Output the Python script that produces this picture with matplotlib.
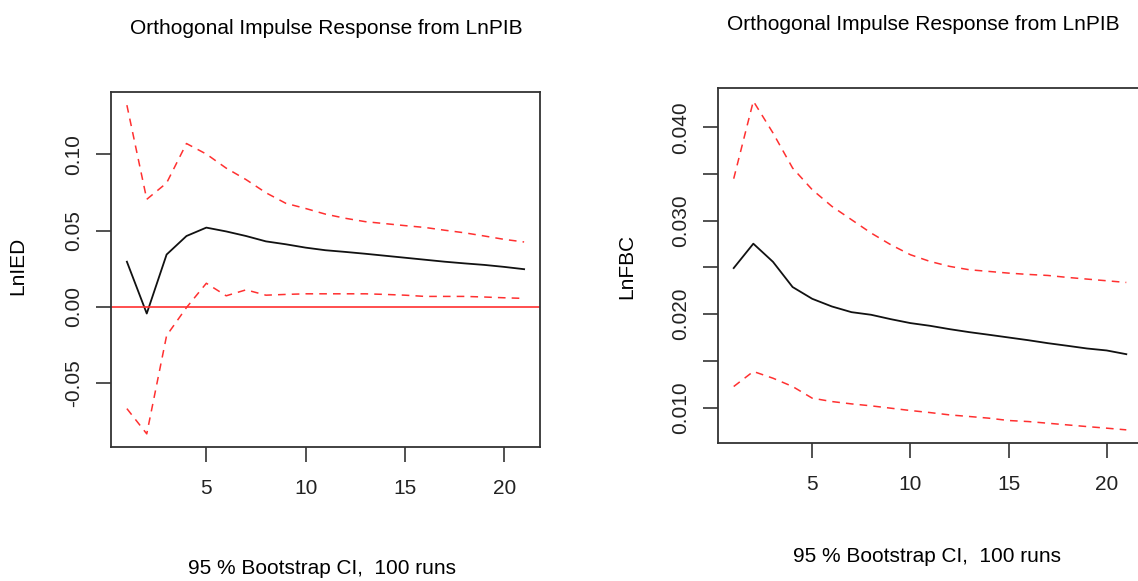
import numpy as np
import matplotlib.pyplot as plt

plt.rcParams['font.family'] = ['Liberation Sans', 'DejaVu Sans']

# horizons
steps = list(range(1, 22))

# LnPIB -> LnIED
ied_irf = [0.0296, -0.0043, 0.0343, 0.0464, 0.0519, 0.0494, 0.0464, 0.0429, 0.0410, 0.0388,
           0.0371, 0.0360, 0.0348, 0.0335, 0.0322, 0.0309, 0.0296, 0.0285, 0.0275, 0.0262, 0.0247]
ied_upper = [0.1320, 0.0704, 0.0811, 0.1069, 0.1000, 0.0908, 0.0833, 0.0747, 0.0678, 0.0644,
             0.0607, 0.0580, 0.0558, 0.0545, 0.0532, 0.0520, 0.0502, 0.0485, 0.0464, 0.0442, 0.0425]
ied_lower = [-0.0665, -0.0830, -0.0187, -0.0004, 0.0155, 0.0073, 0.0112, 0.0077, 0.0082, 0.0086,
             0.0086, 0.0086, 0.0086, 0.0082, 0.0077, 0.0069, 0.0069, 0.0069, 0.0065, 0.0060, 0.0056]

# LnPIB -> LnFBC
fbc_irf = [0.02493, 0.02754, 0.02560, 0.02290, 0.02164, 0.02082, 0.02021, 0.01993, 0.01946, 0.01904,
           0.01875, 0.01839, 0.01807, 0.01779, 0.01750, 0.01721, 0.01689, 0.01661, 0.01632, 0.01611, 0.01571]
fbc_upper = [0.03450, 0.04280, 0.03940, 0.03564, 0.03332, 0.03154, 0.03011, 0.02868, 0.02743, 0.02636,
             0.02564, 0.02511, 0.02475, 0.02457, 0.02439, 0.02425, 0.02414, 0.02393, 0.02375, 0.02357, 0.02339]
fbc_lower = [0.01225, 0.01386, 0.01314, 0.01225, 0.01100, 0.01064, 0.01039, 0.01018, 0.00993, 0.00968,
             0.00946, 0.00921, 0.00904, 0.00886, 0.00861, 0.00850, 0.00832, 0.00814, 0.00796, 0.00779, 0.00761]

title = 'Orthogonal Impulse Response from LnPIB'
note = '95 % Bootstrap CI,  100 runs'
red = '#ff3030'
FS = 15

W, H = 1138, 581
fig = plt.figure(figsize=(W / 100, H / 100), dpi=100)


def px_axes(x0, y0, x1, y1):
    # axes from pixel box (top-left origin)
    return fig.add_axes([x0 / W, 1 - y1 / H, (x1 - x0) / W, (y1 - y0) / H])


def r_style(ax, lo, hi, yticks, ylabels):
    # R-like limits: 4% padding
    pad = (hi - lo) * 0.04
    ax.set_ylim(lo - pad, hi + pad)
    ax.set_xlim(1 - 0.8, 21 + 0.8)
    ax.set_xticks([5, 10, 15, 20])
    ax.set_yticks(yticks)
    ax.set_yticklabels(ylabels, rotation=90, va='center')
    for s in ax.spines.values():
        s.set_color('#333333')
        s.set_linewidth(1.3)
    ax.tick_params(length=10.8, width=1.2, color='#333333', labelsize=FS, labelcolor='#222222')
    ax.tick_params(axis='y', pad=9.5)
    ax.tick_params(axis='x', pad=12)


def draw(ax, irf, up, lo):
    ax.plot(steps, irf, color='#111111', lw=1.3)
    ax.plot(steps, up, color=red, lw=1.1, ls=(0, (5, 4)))
    ax.plot(steps, lo, color=red, lw=1.1, ls=(0, (5, 4)))


# left panel
ax1 = px_axes(111, 92, 540, 447)
draw(ax1, ied_irf, ied_upper, ied_lower)
ax1.axhline(0, color=red, lw=1.2)
r_style(ax1, min(ied_lower), max(ied_upper),
        [-0.05, 0.0, 0.05, 0.10], ['-0.05', '0.00', '0.05', '0.10'])
fig.text(18 / W, 1 - 266 / H, 'LnIED', rotation=90, ha='center', va='center', fontsize=FS)
fig.text(326 / W, 1 - 29 / H, title, ha='center', va='center', fontsize=FS)
fig.text(322 / W, 1 - 569 / H, note, ha='center', va='center', fontsize=FS)

# right panel (right edge cropped in original)
ax2 = px_axes(718, 88, 1142, 443)
draw(ax2, fbc_irf, fbc_upper, fbc_lower)
fticks = [0.010, 0.015, 0.020, 0.025, 0.030, 0.035, 0.040]
r_style(ax2, min(fbc_lower), max(fbc_upper), fticks,
        ['0.010', '', '0.020', '', '0.030', '', '0.040'])
fig.text(627 / W, 1 - 266 / H, 'LnFBC', rotation=90, ha='center', va='center', fontsize=FS)
fig.text(923 / W, 1 - 25 / H, title, ha='center', va='center', fontsize=FS)
fig.text(927 / W, 1 - 557 / H, note, ha='center', va='center', fontsize=FS)

fig.savefig('out.png', dpi=100)
